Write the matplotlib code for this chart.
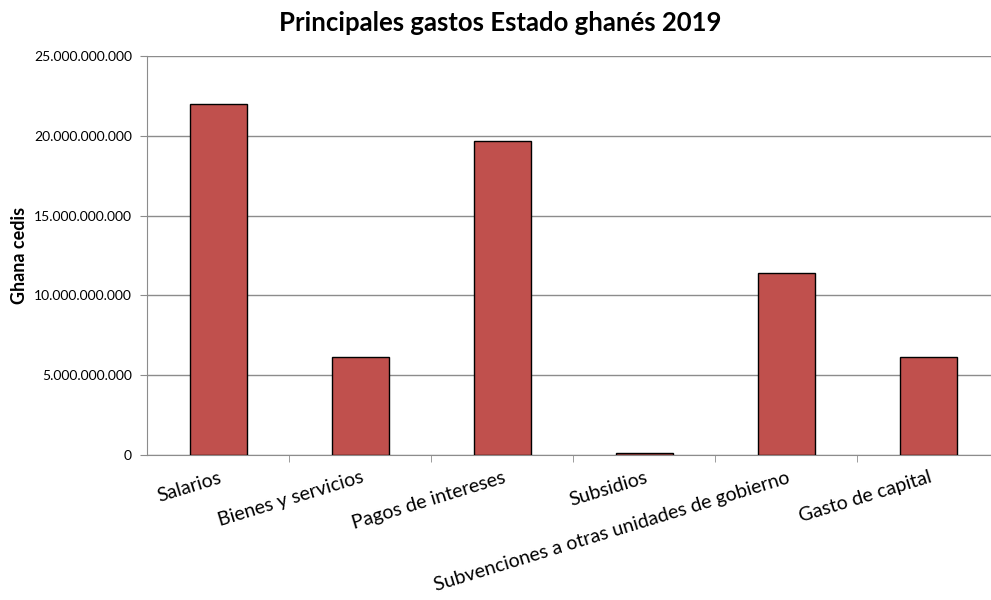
import matplotlib
matplotlib.use("Agg")
import matplotlib.pyplot as plt
from matplotlib.ticker import FuncFormatter, FixedLocator
import numpy as np

# data (Ghana cedis)
categorias = ["Salarios", "Bienes y servicios", "Pagos de intereses", "Subsidios",
              "Subvenciones a otras unidades de gobierno", "Gasto de capital"]
gastos = [22.0e9, 6.15e9, 19.7e9, 0.14e9, 11.4e9, 6.15e9]

plt.rcParams["font.family"] = ["Lato", "DejaVu Sans"]

fig = plt.figure(figsize=(9.91, 6), dpi=100)
ax = fig.add_axes([0.1485, 0.2417, 0.86, 0.665])

x = np.arange(len(categorias))
ax.bar(x, gastos, width=0.4, color="#C0504D", edgecolor="black", linewidth=1, zorder=3)

ax.set_xlim(-0.5, len(categorias) - 0.5)
ax.set_ylim(0, 25e9)
ax.set_yticks(np.arange(0, 25e9 + 1, 5e9))
ax.yaxis.set_major_formatter(FuncFormatter(lambda v, p: "{:,.0f}".format(v).replace(",", ".")))
ax.grid(axis="y", color="#8c8c8c", linewidth=1, zorder=0)

ax.set_xticks(x)
ax.set_xticklabels(categorias, rotation=17, ha="right", rotation_mode="anchor", fontsize=14)
ax.tick_params(axis="x", length=0, pad=10)
ax.xaxis.set_minor_locator(FixedLocator(np.arange(0.5, len(categorias) - 0.5, 1)))
ax.tick_params(axis="x", which="minor", length=5, color="#8c8c8c")
ax.tick_params(axis="y", length=5, color="#8c8c8c", labelsize=10, pad=6)

for s in ["top", "right"]:
    ax.spines[s].set_visible(False)
for s in ["left", "bottom"]:
    ax.spines[s].set_color("#8c8c8c")

ax.set_ylabel("Ghana cedis", fontsize=13, fontweight="bold", labelpad=4)
fig.text(0.505, 0.962, "Principales gastos Estado ghanés 2019", ha="center", va="center",
         fontsize=18.5, fontweight="bold")

fig.savefig("out.png", dpi=100)
